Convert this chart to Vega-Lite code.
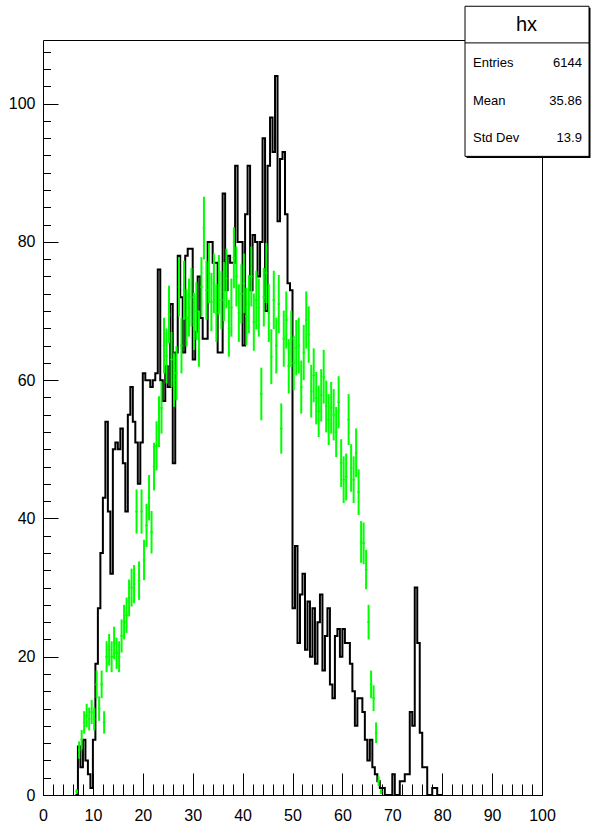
{
  "$schema": "https://vega.github.io/schema/vega-lite/v6.json",
  "width": 499,
  "height": 755,
  "autosize": {"type": "none"},
  "padding": {"left": 43, "top": 40, "right": 50, "bottom": 39},
  "background": "white",
  "config": {
    "view": {"stroke": "black", "strokeWidth": 1},
    "font": "Liberation Sans",
    "axis": {"domain": false, "grid": false, "title": null, "tickColor": "black", "tickWidth": 1, "labelColor": "black", "labelFont": "Liberation Sans", "labelFontSize": 16, "labelFlush": false, "labelOverlap": false}
  },
  "datasets": {
    "one": [{}],
    "black": [
      {"x":6.5,"n":0},{"x":7,"n":7},{"x":7.5,"n":4},{"x":8,"n":8},{"x":8.5,"n":5},{"x":9,"n":3},{"x":9.5,"n":1},{"x":10,"n":8},{"x":10.5,"n":19},{"x":11,"n":27},{"x":11.5,"n":35},{"x":12,"n":43},{"x":12.5,"n":54},{"x":13,"n":41},{"x":13.5,"n":32},{"x":14,"n":50},{"x":14.5,"n":51},{"x":15,"n":50},{"x":15.5,"n":53},{"x":16,"n":48},{"x":16.5,"n":41},{"x":17,"n":55},{"x":17.5,"n":59},{"x":18,"n":54},{"x":18.5,"n":51},{"x":19,"n":45},{"x":19.5,"n":51},{"x":20,"n":61},{"x":20.5,"n":60},{"x":21,"n":60},{"x":21.5,"n":59},{"x":22,"n":60},{"x":22.5,"n":61},{"x":23,"n":76},{"x":23.5,"n":60},{"x":24,"n":57},{"x":24.5,"n":62},{"x":25,"n":59},{"x":25.5,"n":71},{"x":26,"n":48},{"x":26.5,"n":64},{"x":27,"n":78},{"x":27.5,"n":72},{"x":28,"n":64},{"x":28.5,"n":78},{"x":29,"n":79},{"x":29.5,"n":79},{"x":30,"n":63},{"x":30.5,"n":67},{"x":31,"n":75},{"x":31.5,"n":69},{"x":32,"n":66},{"x":32.5,"n":66},{"x":33,"n":80},{"x":33.5,"n":80},{"x":34,"n":77},{"x":34.5,"n":77},{"x":35,"n":64},{"x":35.5,"n":64},{"x":36,"n":87},{"x":36.5,"n":73},{"x":37,"n":78},{"x":37.5,"n":77},{"x":38,"n":77},{"x":38.5,"n":91},{"x":39,"n":80},{"x":39.5,"n":80},{"x":40,"n":65},{"x":40.5,"n":84},{"x":41,"n":91},{"x":41.5,"n":73},{"x":42,"n":81},{"x":42.5,"n":80},{"x":43,"n":75},{"x":43.5,"n":80},{"x":44,"n":95},{"x":44.5,"n":70},{"x":45,"n":91},{"x":45.5,"n":98},{"x":46,"n":93},{"x":46.5,"n":104},{"x":47,"n":83},{"x":47.5,"n":92},{"x":48,"n":93},{"x":48.5,"n":84},{"x":49,"n":74},{"x":49.5,"n":73},{"x":50,"n":27},{"x":50.5,"n":36},{"x":51,"n":22},{"x":51.5,"n":29},{"x":52,"n":32},{"x":52.5,"n":21},{"x":53,"n":28},{"x":53.5,"n":20},{"x":54,"n":27},{"x":54.5,"n":19},{"x":55,"n":25},{"x":55.5,"n":29},{"x":56,"n":18},{"x":56.5,"n":23},{"x":57,"n":27},{"x":57.5,"n":16},{"x":58,"n":14},{"x":58.5,"n":23},{"x":59,"n":24},{"x":59.5,"n":20},{"x":60,"n":24},{"x":60.5,"n":22},{"x":61,"n":22},{"x":61.5,"n":19},{"x":62,"n":15},{"x":62.5,"n":10},{"x":63,"n":14},{"x":63.5,"n":14},{"x":64,"n":12},{"x":64.5,"n":8},{"x":65,"n":5},{"x":65.5,"n":8},{"x":66,"n":4},{"x":66.5,"n":3},{"x":67,"n":2},{"x":67.5,"n":1},{"x":68,"n":1},{"x":68.5,"n":0},{"x":69,"n":0},{"x":69.5,"n":0},{"x":70,"n":3},{"x":70.5,"n":0},{"x":71,"n":0},{"x":71.5,"n":2},{"x":72,"n":2},{"x":72.5,"n":3},{"x":73,"n":3},{"x":73.5,"n":12},{"x":74,"n":10},{"x":74.5,"n":30},{"x":75,"n":22},{"x":75.5,"n":9},{"x":76,"n":4},{"x":76.5,"n":4},{"x":77,"n":0},{"x":77.5,"n":0},{"x":78,"n":1},{"x":78.5,"n":1},{"x":79,"n":0},{"x":80,"n":0}
    ],
    "green": [
      {"c":6.75,"lo":6.5,"hi":7,"y":0.5,"e":0.35},{"c":7.25,"lo":7,"hi":7.5,"y":6.5,"e":1.27},{"c":7.75,"lo":7.5,"hi":8,"y":8,"e":1.41},{"c":8.25,"lo":8,"hi":8.5,"y":10.5,"e":1.62},{"c":8.75,"lo":8.5,"hi":9,"y":11.5,"e":1.7},{"c":9.25,"lo":9,"hi":9.5,"y":11,"e":1.66},{"c":9.75,"lo":9.5,"hi":10,"y":12,"e":1.73},{"c":10.25,"lo":10,"hi":10.5,"y":11,"e":1.66},{"c":10.75,"lo":10.5,"hi":11,"y":16,"e":2.0},{"c":11.25,"lo":11,"hi":11.5,"y":12.5,"e":1.77},{"c":11.75,"lo":11.5,"hi":12,"y":16,"e":2.0},{"c":12.25,"lo":12,"hi":12.5,"y":10.5,"e":1.62},{"c":12.75,"lo":12.5,"hi":13,"y":20,"e":2.24},{"c":13.25,"lo":13,"hi":13.5,"y":21,"e":2.29},{"c":13.75,"lo":13.5,"hi":14,"y":20,"e":2.24},{"c":14.25,"lo":14,"hi":14.5,"y":22,"e":2.35},{"c":14.75,"lo":14.5,"hi":15,"y":20.5,"e":2.26},{"c":15.25,"lo":15,"hi":15.5,"y":20,"e":2.24},{"c":15.75,"lo":15.5,"hi":16,"y":23,"e":2.4},{"c":16.25,"lo":16,"hi":16.5,"y":25,"e":2.5},{"c":16.75,"lo":16.5,"hi":17,"y":26,"e":2.55},{"c":17.25,"lo":17,"hi":17.5,"y":28.5,"e":2.67},{"c":17.75,"lo":17.5,"hi":18,"y":30,"e":2.74},{"c":18.25,"lo":18,"hi":18.5,"y":30.5,"e":2.76},{"c":18.75,"lo":18.5,"hi":19,"y":41,"e":3.2},{"c":19.25,"lo":19,"hi":19.5,"y":31,"e":2.78},{"c":19.75,"lo":19.5,"hi":20,"y":41,"e":3.2},{"c":20.25,"lo":20,"hi":20.5,"y":34,"e":2.92},{"c":20.75,"lo":20.5,"hi":21,"y":39,"e":3.12},{"c":21.25,"lo":21,"hi":21.5,"y":43,"e":3.28},{"c":21.75,"lo":21.5,"hi":22,"y":38,"e":3.08},{"c":22.25,"lo":22,"hi":22.5,"y":47.5,"e":3.45},{"c":22.75,"lo":22.5,"hi":23,"y":50.5,"e":3.55},{"c":23.25,"lo":23,"hi":23.5,"y":54,"e":3.67},{"c":23.75,"lo":23.5,"hi":24,"y":56,"e":3.74},{"c":24.25,"lo":24,"hi":24.5,"y":65,"e":4.03},{"c":24.75,"lo":24.5,"hi":25,"y":63.5,"e":3.98},{"c":25.25,"lo":25,"hi":25.5,"y":69.5,"e":4.17},{"c":25.75,"lo":25.5,"hi":26,"y":63,"e":3.97},{"c":26.25,"lo":26,"hi":26.5,"y":60,"e":3.87},{"c":26.75,"lo":26.5,"hi":27,"y":61,"e":3.91},{"c":27.25,"lo":27,"hi":27.5,"y":73.5,"e":4.29},{"c":27.75,"lo":27.5,"hi":28,"y":65,"e":4.03},{"c":28.25,"lo":28,"hi":28.5,"y":73,"e":4.27},{"c":28.75,"lo":28.5,"hi":29,"y":69,"e":4.15},{"c":29.25,"lo":29,"hi":29.5,"y":70.5,"e":4.2},{"c":29.75,"lo":29.5,"hi":30,"y":72,"e":4.24},{"c":30.25,"lo":30,"hi":30.5,"y":68.5,"e":4.14},{"c":30.75,"lo":30.5,"hi":31,"y":70,"e":4.18},{"c":31.25,"lo":31,"hi":31.5,"y":66,"e":4.06},{"c":31.75,"lo":31.5,"hi":32,"y":73.5,"e":4.29},{"c":32.25,"lo":32,"hi":32.5,"y":82,"e":4.53},{"c":32.75,"lo":32.5,"hi":33,"y":73,"e":4.27},{"c":33.25,"lo":33,"hi":33.5,"y":75.5,"e":4.34},{"c":33.75,"lo":33.5,"hi":34,"y":71.3,"e":4.22},{"c":34.25,"lo":34,"hi":34.5,"y":74,"e":4.3},{"c":34.75,"lo":34.5,"hi":35,"y":69.7,"e":4.17},{"c":35.25,"lo":35,"hi":35.5,"y":73.8,"e":4.3},{"c":35.75,"lo":35.5,"hi":36,"y":71.6,"e":4.23},{"c":36.25,"lo":36,"hi":36.5,"y":72.8,"e":4.27},{"c":36.75,"lo":36.5,"hi":37,"y":74.7,"e":4.32},{"c":37.25,"lo":37,"hi":37.5,"y":67.5,"e":4.11},{"c":37.75,"lo":37.5,"hi":38,"y":70.5,"e":4.2},{"c":38.25,"lo":38,"hi":38.5,"y":77.7,"e":4.41},{"c":38.75,"lo":38.5,"hi":39,"y":75,"e":4.33},{"c":39.25,"lo":39,"hi":39.5,"y":69.7,"e":4.17},{"c":39.75,"lo":39.5,"hi":40,"y":72.5,"e":4.26},{"c":40.25,"lo":40,"hi":40.5,"y":74,"e":4.3},{"c":40.75,"lo":40.5,"hi":41,"y":69.2,"e":4.16},{"c":41.25,"lo":41,"hi":41.5,"y":71,"e":4.21},{"c":41.75,"lo":41.5,"hi":42,"y":75,"e":4.33},{"c":42.25,"lo":42,"hi":42.5,"y":68.4,"e":4.14},{"c":42.75,"lo":42.5,"hi":43,"y":71.6,"e":4.23},{"c":43.25,"lo":43,"hi":43.5,"y":70.5,"e":4.2},{"c":43.75,"lo":43.5,"hi":44,"y":58,"e":3.81},{"c":44.25,"lo":44,"hi":44.5,"y":72,"e":4.24},{"c":44.75,"lo":44.5,"hi":45,"y":75.5,"e":4.34},{"c":45.25,"lo":45,"hi":45.5,"y":69.7,"e":4.17},{"c":45.75,"lo":45.5,"hi":46,"y":63.4,"e":3.98},{"c":46.25,"lo":46,"hi":46.5,"y":71.6,"e":4.23},{"c":46.75,"lo":46.5,"hi":47,"y":65,"e":4.03},{"c":47.25,"lo":47,"hi":47.5,"y":71,"e":4.21},{"c":47.75,"lo":47.5,"hi":48,"y":53,"e":3.64},{"c":48.25,"lo":48,"hi":48.5,"y":66,"e":4.06},{"c":48.75,"lo":48.5,"hi":49,"y":68.7,"e":4.14},{"c":49.25,"lo":49,"hi":49.5,"y":62,"e":3.94},{"c":49.75,"lo":49.5,"hi":50,"y":66,"e":4.06},{"c":50.25,"lo":50,"hi":50.5,"y":62.5,"e":3.95},{"c":50.75,"lo":50.5,"hi":51,"y":64.7,"e":4.02},{"c":51.25,"lo":51,"hi":51.5,"y":65,"e":4.03},{"c":51.75,"lo":51.5,"hi":52,"y":59,"e":3.84},{"c":52.25,"lo":52,"hi":52.5,"y":64,"e":4.0},{"c":52.75,"lo":52.5,"hi":53,"y":68.7,"e":4.14},{"c":53.25,"lo":53,"hi":53.5,"y":66.6,"e":4.08},{"c":53.75,"lo":53.5,"hi":54,"y":58.4,"e":3.82},{"c":54.25,"lo":54,"hi":54.5,"y":60.7,"e":3.9},{"c":54.75,"lo":54.5,"hi":55,"y":57.4,"e":3.79},{"c":55.25,"lo":55,"hi":55.5,"y":55.5,"e":3.72},{"c":55.75,"lo":55.5,"hi":56,"y":57.8,"e":3.8},{"c":56.25,"lo":56,"hi":56.5,"y":60.5,"e":3.89},{"c":56.75,"lo":56.5,"hi":57,"y":56.2,"e":3.75},{"c":57.25,"lo":57,"hi":57.5,"y":54.3,"e":3.68},{"c":57.75,"lo":57.5,"hi":58,"y":56,"e":3.74},{"c":58.25,"lo":58,"hi":58.5,"y":55,"e":3.71},{"c":58.75,"lo":58.5,"hi":59,"y":52.5,"e":3.62},{"c":59.25,"lo":59,"hi":59.5,"y":56.8,"e":3.77},{"c":59.75,"lo":59.5,"hi":60,"y":48,"e":3.46},{"c":60.25,"lo":60,"hi":60.5,"y":45.6,"e":3.38},{"c":60.75,"lo":60.5,"hi":61,"y":46,"e":3.39},{"c":61.25,"lo":61,"hi":61.5,"y":54.3,"e":3.68},{"c":61.75,"lo":61.5,"hi":62,"y":47.3,"e":3.44},{"c":62.25,"lo":62,"hi":62.5,"y":45.6,"e":3.38},{"c":62.75,"lo":62.5,"hi":63,"y":49.5,"e":3.52},{"c":63.25,"lo":63,"hi":63.5,"y":43.8,"e":3.31},{"c":63.75,"lo":63.5,"hi":64,"y":36.6,"e":3.02},{"c":64.25,"lo":64,"hi":64.5,"y":36.4,"e":3.02},{"c":64.75,"lo":64.5,"hi":65,"y":32.6,"e":2.85},{"c":65.25,"lo":65,"hi":65.5,"y":25,"e":2.5},{"c":65.75,"lo":65.5,"hi":66,"y":16,"e":2.0},{"c":66.25,"lo":66,"hi":66.5,"y":14,"e":1.87},{"c":66.75,"lo":66.5,"hi":67,"y":9,"e":1.5},{"c":67.25,"lo":67,"hi":67.5,"y":2,"e":0.71},{"c":67.75,"lo":67.5,"hi":68,"y":0.5,"e":0.35}
    ]
  },
  "layer": [
    {
      "data": {"name": "black"},
      "mark": {"type": "line", "interpolate": "step-after", "color": "black", "strokeWidth": 2},
      "encoding": {
        "x": {"field": "x", "type": "quantitative", "scale": {"domain": [0, 100], "nice": false, "zero": false},
              "axis": {"orient": "bottom", "values": [0,10,20,30,40,50,60,70,80,90,100], "tickSize": -22, "labelPadding": 34}},
        "y": {"field": "n", "type": "quantitative", "scale": {"domain": [0, 109.2], "nice": false, "zero": false},
              "axis": {"orient": "left", "values": [0,20,40,60,80,100], "tickSize": -15, "labelPadding": 23}}
      }
    },
    {
      "data": {"name": "black"},
      "mark": {"type": "point", "opacity": 0},
      "encoding": {
        "x": {"field": "x", "type": "quantitative",
              "axis": {"orient": "bottom", "values": [0,2,4,6,8,10,12,14,16,18,20,22,24,26,28,30,32,34,36,38,40,42,44,46,48,50,52,54,56,58,60,62,64,66,68,70,72,74,76,78,80,82,84,86,88,90,92,94,96,98,100], "tickSize": -11, "labels": false}},
        "y": {"field": "n", "type": "quantitative",
              "axis": {"orient": "left", "values": [0,2.5,5,7.5,10,12.5,15,17.5,20,22.5,25,27.5,30,32.5,35,37.5,40,42.5,45,47.5,50,52.5,55,57.5,60,62.5,65,67.5,70,72.5,75,77.5,80,82.5,85,87.5,90,92.5,95,97.5,100,102.5,105,107.5], "tickSize": -7.5, "labels": false}}
      }
    },
    {
      "data": {"name": "green"},
      "mark": {"type": "errorbar", "color": "#00ff00", "thickness": 2},
      "encoding": {
        "x": {"field": "c", "type": "quantitative", "axis": null},
        "y": {"field": "y", "type": "quantitative", "axis": null},
        "yError": {"field": "e"}
      }
    },
    {
      "data": {"name": "green"},
      "mark": {"type": "rule", "color": "#00ff00", "strokeWidth": 1.5},
      "encoding": {
        "x": {"field": "lo", "type": "quantitative", "axis": null},
        "x2": {"field": "hi"},
        "y": {"field": "y", "type": "quantitative", "axis": null}
      }
    },
    {
      "data": {"name": "one"},
      "mark": {"type": "rect", "color": "black", "clip": false},
      "encoding": {
        "x": {"datum": 84.87, "type": "quantitative", "axis": null},
        "x2": {"datum": 109.72},
        "y": {"datum": 92.15, "type": "quantitative", "axis": null},
        "y2": {"datum": 113.85}
      }
    },
    {
      "data": {"name": "one"},
      "mark": {"type": "rect", "fill": "white", "stroke": "black", "strokeWidth": 1, "clip": false},
      "encoding": {
        "x": {"datum": 84.57, "type": "quantitative", "axis": null},
        "x2": {"datum": 109.42},
        "y": {"datum": 92.37, "type": "quantitative", "axis": null},
        "y2": {"datum": 114.08}
      }
    },
    {
      "data": {"name": "one"},
      "mark": {"type": "rule", "color": "black", "strokeWidth": 1, "clip": false},
      "encoding": {
        "x": {"datum": 84.57, "type": "quantitative", "axis": null},
        "x2": {"datum": 109.42},
        "y": {"datum": 108.78, "type": "quantitative", "axis": null}
      }
    },
    {
      "data": {"name": "one"},
      "mark": {"type": "text", "text": "hx", "font": "Liberation Sans", "fontSize": 20, "align": "center", "baseline": "middle", "color": "black", "clip": false},
      "encoding": {
        "x": {"datum": 96.9, "type": "quantitative", "axis": null},
        "y": {"datum": 111.3, "type": "quantitative", "axis": null}
      }
    },
    {
      "data": {"name": "one"},
      "mark": {"type": "text", "text": "Entries", "font": "Liberation Sans", "fontSize": 13, "align": "left", "baseline": "middle", "color": "black", "clip": false},
      "encoding": {
        "x": {"datum": 86.17, "type": "quantitative", "axis": null},
        "y": {"datum": 105.9, "type": "quantitative", "axis": null}
      }
    },
    {
      "data": {"name": "one"},
      "mark": {"type": "text", "text": "6144", "font": "Liberation Sans", "fontSize": 13, "align": "right", "baseline": "middle", "color": "black", "clip": false},
      "encoding": {
        "x": {"datum": 108.0, "type": "quantitative", "axis": null},
        "y": {"datum": 105.9, "type": "quantitative", "axis": null}
      }
    },
    {
      "data": {"name": "one"},
      "mark": {"type": "text", "text": "Mean", "font": "Liberation Sans", "fontSize": 13, "align": "left", "baseline": "middle", "color": "black", "clip": false},
      "encoding": {
        "x": {"datum": 86.17, "type": "quantitative", "axis": null},
        "y": {"datum": 100.4, "type": "quantitative", "axis": null}
      }
    },
    {
      "data": {"name": "one"},
      "mark": {"type": "text", "text": "35.86", "font": "Liberation Sans", "fontSize": 13, "align": "right", "baseline": "middle", "color": "black", "clip": false},
      "encoding": {
        "x": {"datum": 108.0, "type": "quantitative", "axis": null},
        "y": {"datum": 100.4, "type": "quantitative", "axis": null}
      }
    },
    {
      "data": {"name": "one"},
      "mark": {"type": "text", "text": "Std Dev", "font": "Liberation Sans", "fontSize": 13, "align": "left", "baseline": "middle", "color": "black", "clip": false},
      "encoding": {
        "x": {"datum": 86.17, "type": "quantitative", "axis": null},
        "y": {"datum": 95.0, "type": "quantitative", "axis": null}
      }
    },
    {
      "data": {"name": "one"},
      "mark": {"type": "text", "text": "13.9", "font": "Liberation Sans", "fontSize": 13, "align": "right", "baseline": "middle", "color": "black", "clip": false},
      "encoding": {
        "x": {"datum": 108.0, "type": "quantitative", "axis": null},
        "y": {"datum": 95.0, "type": "quantitative", "axis": null}
      }
    }
  ],
  "resolve": {"axis": {"x": "independent", "y": "independent"}}
}
